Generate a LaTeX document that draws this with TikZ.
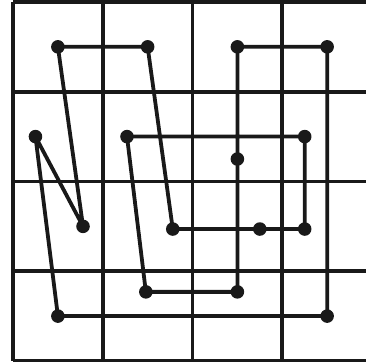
\documentclass[tikz,border=0pt]{standalone}
\usepackage{tikz}
\tikzset{
  gridline/.style={line width=2.4pt, color=black!90},
  route/.style={line width=2.4pt, color=black!90, line join=round},
  dot/.style={circle, fill=black!90, inner sep=0pt, minimum size=8.6pt},
}

\begin{document}
\begin{tikzpicture}[x=2cm, y=2cm]
  \useasboundingbox (-0.145,-0.011) rectangle (3.933,4.022);
  \clip (-0.145,-0.011) rectangle (3.933,4.022);
  \draw[gridline, step=2cm] (0,0) grid (4,4);

  \node[dot] (a) at (0.5,3.5) {};
  \node[dot] (b) at (1.5,3.5) {};
  \node[dot] (c) at (1.78,1.47) {};
  \node[dot] (d) at (2.75,1.47) {};
  \node[dot] (e) at (3.25,1.47) {};
  \node[dot] (f) at (3.25,2.5) {};
  \node[dot] (g) at (1.27,2.5) {};
  \node[dot] (h) at (1.48,0.77) {};
  \node[dot] (i) at (2.5,0.77) {};
  \node[dot] (j) at (2.5,2.25) {};
  \node[dot] (k) at (2.5,3.5) {};
  \node[dot] (l) at (3.5,3.5) {};
  \node[dot] (m) at (3.5,0.5) {};
  \node[dot] (n) at (0.5,0.5) {};
  \node[dot] (o) at (0.25,2.5) {};
  \node[dot] (p) at (0.78,1.5) {};

  \draw[route] (a.center) -- (b.center) -- (c.center) -- (d.center) -- (e.center)
    -- (f.center) -- (g.center) -- (h.center) -- (i.center) -- (j.center)
    -- (k.center) -- (l.center) -- (m.center) -- (n.center) -- (o.center)
    -- (p.center) -- cycle;
\end{tikzpicture}
\end{document}
